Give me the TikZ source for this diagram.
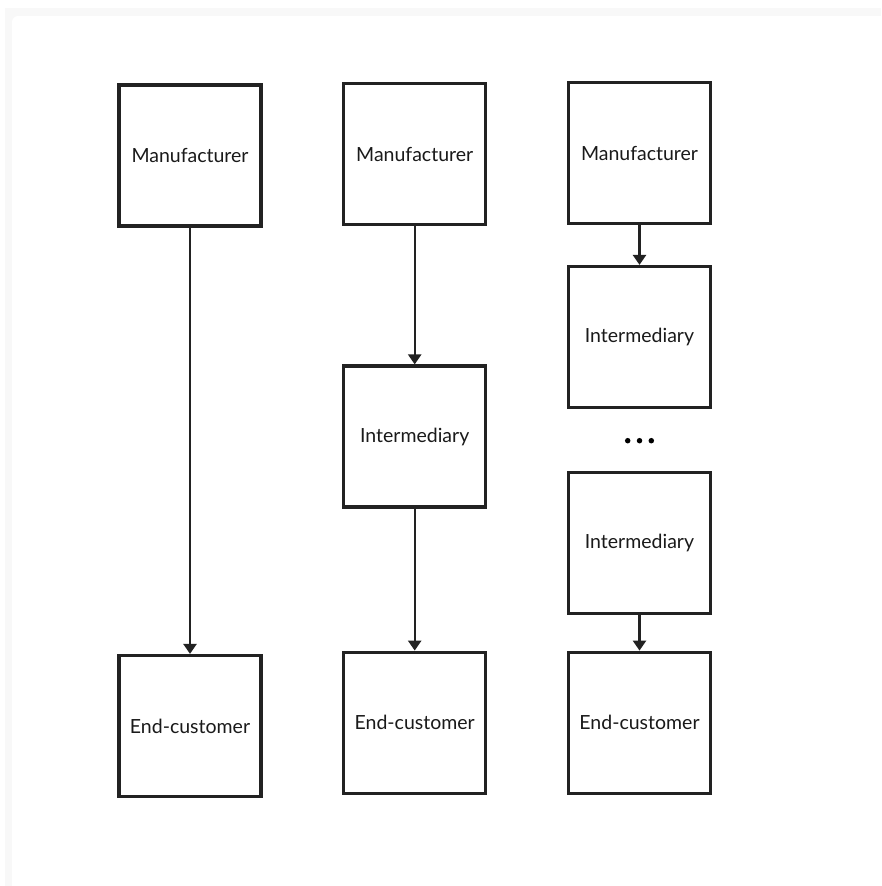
\documentclass[tikz,border=0pt]{standalone}
\usepackage{fontspec}
\setmainfont{Lato}
\usetikzlibrary{arrows.meta}
\definecolor{ink}{HTML}{222222}
\definecolor{textink}{HTML}{1A1A1A}
\definecolor{panelgray}{HTML}{F8F8F8}
\tikzset{
  stagebox/.style={draw=ink, line width=3.2pt, fill=white, minimum width=142pt,
    minimum height=141pt, inner sep=0pt, text=textink, font=\fontsize{19.5pt}{22pt}\selectfont},
  flow/.style={draw=ink, line width=2.4pt, -{Triangle[width=13pt,length=10pt]}},
  dot/.style={circle, fill=black, inner sep=0pt, minimum size=5.5pt}
}
\begin{document}
\begin{tikzpicture}[x=1pt, y=-1pt]
  % page and panel background
  \useasboundingbox (0,0) rectangle (881,886);
  \fill[white] (0,0) rectangle (881,886);
  \fill[panelgray] (5,8) rectangle (881,886);
  \fill[white, rounded corners=6pt] (12,16) rectangle (900,900);

  % direct channel
  \node[stagebox] (m1) at (190,155.5) {Manufacturer};
  \node[stagebox] (e1) at (190,726) {End-customer};

  % one intermediary
  \node[stagebox] (m2) at (414.7,154.3) {Manufacturer};
  \node[stagebox] (i2) at (414.7,436.5) {Intermediary};
  \node[stagebox] (e2) at (414.7,722.7) {End-customer};

  % chain of intermediaries
  \node[stagebox] (m3) at (639.5,153) {Manufacturer};
  \node[stagebox] (i3a) at (639.5,337) {Intermediary};
  \node[stagebox] (i3b) at (639.5,543) {Intermediary};
  \node[stagebox] (e3) at (639.5,722.7) {End-customer};
  \node[dot] (d1) at (627.7,440.7) {};
  \node[dot] (d2) at (639.5,440.7) {};
  \node[dot] (d3) at (651.3,440.7) {};

  % flows
  \draw[flow] (m1) -- (e1);
  \draw[flow] (m2) -- (i2);
  \draw[flow] (i2) -- (e2);
  \draw[flow] (m3) -- (i3a);
  \draw[flow] (i3b) -- (e3);
\end{tikzpicture}
\end{document}
